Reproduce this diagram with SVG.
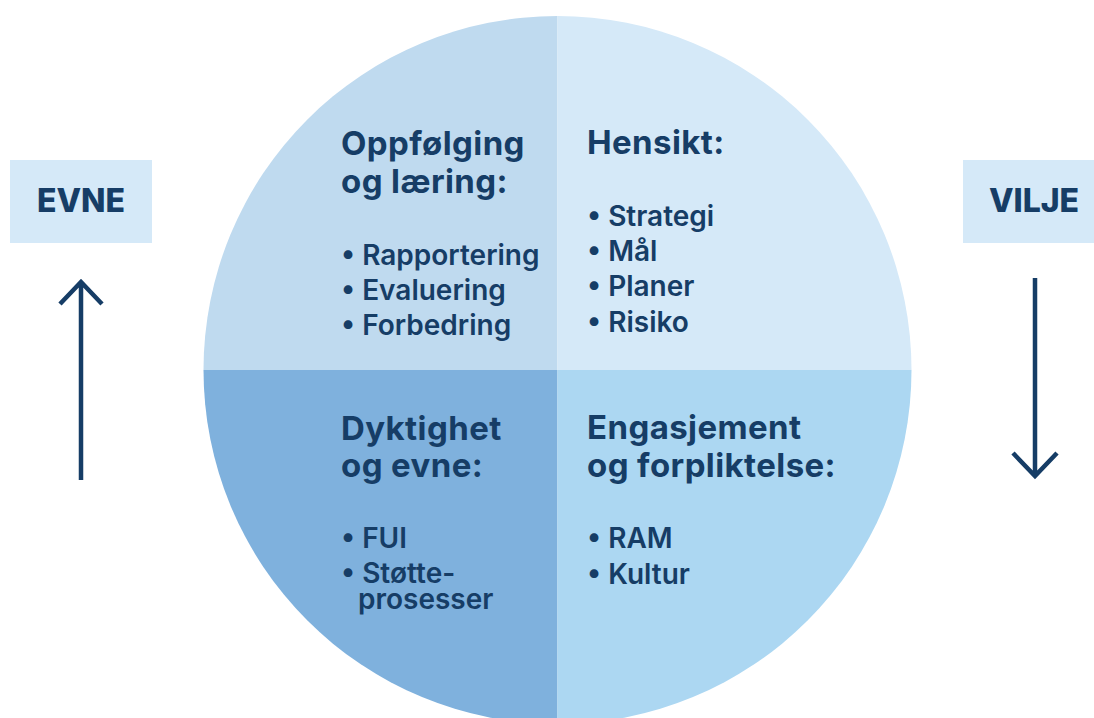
<svg xmlns="http://www.w3.org/2000/svg" width="1094" height="718" viewBox="0 0 1094 718">
<style>
.h{font-family:Inter,"Noto Sans",sans-serif;font-weight:700;font-size:33px;letter-spacing:0.4px;fill:#163d66}
.b{font-family:Inter,"Noto Sans",sans-serif;font-weight:600;font-size:28px;fill:#163d66}
.lbl{font-family:Inter,"Noto Sans",sans-serif;font-weight:800;font-size:32px;fill:#163d66;text-anchor:middle}
.arr{stroke:#163d66;stroke-width:4.5;fill:none}
</style>
<defs>
<clipPath id="c"><circle cx="557.5" cy="370" r="354"/></clipPath>
</defs>
<rect width="1094" height="718" fill="#ffffff"/>
<g clip-path="url(#c)">
<rect id="q1bg" x="200" y="0" width="357.5" height="370" fill="#bfdaef"/>
<rect id="q2bg" x="557.5" y="0" width="360" height="370" fill="#d5e9f8"/>
<rect id="q3bg" x="200" y="370" width="357.5" height="360" fill="#7fb1dd"/>
<rect id="q4bg" x="557.5" y="370" width="360" height="360" fill="#acd7f2"/>
</g>
<g id="oppfolging">
<text class="h" x="341" y="155">Oppfølging</text>
<text class="h" x="341" y="193">og læring:</text>
<text class="b" x="341" y="265">• Rapportering</text>
<text class="b" x="341" y="300">• Evaluering</text>
<text class="b" x="341" y="335">• Forbedring</text>
</g>
<g id="hensikt">
<text class="h" x="587" y="154">Hensikt:</text>
<text class="b" x="587" y="226">• Strategi</text>
<text class="b" x="587" y="261">• Mål</text>
<text class="b" x="587" y="296">• Planer</text>
<text class="b" x="587" y="332">• Risiko</text>
</g>
<g id="dyktighet">
<text class="h" x="341" y="440">Dyktighet</text>
<text class="h" x="341" y="477">og evne:</text>
<text class="b" x="341" y="548">• FUI</text>
<text class="b" x="341" y="583">• Støtte-<tspan x="358" y="609">prosesser</tspan></text>
</g>
<g id="engasjement">
<text class="h" x="587" y="439">Engasjement</text>
<text class="h" x="587" y="477">og forpliktelse:</text>
<text class="b" x="587" y="548">• RAM</text>
<text class="b" x="587" y="584">• Kultur</text>
</g>
<g id="evne">
<rect x="10" y="160" width="142" height="83" fill="#d5e9f8"/>
<text class="lbl" x="81" y="212">EVNE</text>
</g>
<g id="vilje">
<rect x="963" y="160" width="131" height="83" fill="#d5e9f8"/>
<text class="lbl" x="1034" y="212">VILJE</text>
</g>
<g id="connectors">
<path class="arr" d="M81 480 V282 M60 304 L81 282 L102 304"/>
<path class="arr" d="M1035 278 V476 M1013 453 L1035 476 L1057 453"/>
</g>
</svg>
